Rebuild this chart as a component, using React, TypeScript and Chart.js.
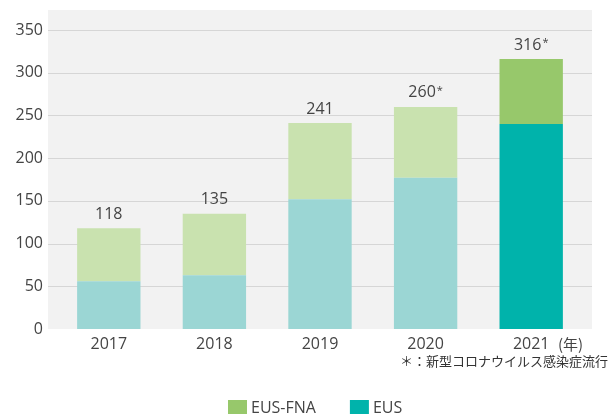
import React, { useEffect, useRef } from "react";
import { Chart, registerables } from "chart.js";

Chart.register(...registerables);

const years = ["2017", "2018", "2019", "2020", "2021"];
const eusValues = [56, 63, 152, 177, 240];
const fnaValues = [62, 72, 89, 83, 76];
const totalLabels = ["118", "135", "241", "260", "316"];
const totalMarks = ["", "", "", "*", "*"];
const eusColors = ["#9bd6d4", "#9bd6d4", "#9bd6d4", "#9bd6d4", "#00b3ab"];
const fnaColors = ["#c9e2af", "#c9e2af", "#c9e2af", "#c9e2af", "#97c86b"];
const legendItems = [
  { label: "EUS-FNA", color: "#97c86b" },
  { label: "EUS", color: "#00b3ab" },
];
const yearUnit = "(年)";
const footnote = "＊：新型コロナウイルス感染症流行";

const FONT = "'Open Sans', 'Noto Sans', sans-serif";
const TEXT = "#444444";

const decorPlugin = {
  id: "decor",
  beforeDraw(chart: any) {
    const { ctx, chartArea } = chart;
    const y = chart.scales.y;
    const left = chartArea.left - 8;
    const right = chartArea.right + 8;
    ctx.save();
    ctx.fillStyle = "#f2f2f2";
    ctx.fillRect(left, 10, right - left, chartArea.bottom - 10);
    ctx.strokeStyle = "#d6d6d6";
    ctx.lineWidth = 1;
    y.ticks.forEach((t: any) => {
      if (t.value === 0) return;
      const py = Math.round(y.getPixelForValue(t.value)) + 0.5;
      ctx.beginPath();
      ctx.moveTo(left, py);
      ctx.lineTo(right, py);
      ctx.stroke();
    });
    ctx.restore();
  },
  afterDraw(chart: any) {
    const { ctx } = chart;
    const x = chart.scales.x;
    const y = chart.scales.y;
    ctx.save();
    ctx.fillStyle = TEXT;
    ctx.textBaseline = "middle";
    years.forEach((_, i) => {
      const total = eusValues[i] + fnaValues[i];
      const px = x.getPixelForValue(i);
      const py = y.getPixelForValue(total) - 14;
      ctx.font = `16px ${FONT}`;
      const w1 = ctx.measureText(totalLabels[i]).width;
      ctx.font = `11px ${FONT}`;
      const w2 = totalMarks[i] ? ctx.measureText(totalMarks[i]).width + 1 : 0;
      const start = px - (w1 + w2) / 2;
      ctx.textAlign = "left";
      ctx.font = `16px ${FONT}`;
      ctx.fillText(totalLabels[i], start, py);
      if (totalMarks[i]) {
        ctx.font = `11px ${FONT}`;
        ctx.fillText(totalMarks[i], start + w1 + 1, py - 2);
      }
    });
    ctx.textAlign = "left";
    ctx.font = `15px 'Noto Sans CJK JP', ${FONT}`;
    ctx.fillText(yearUnit, 558, 344);
    ctx.textAlign = "right";
    ctx.font = `13px 'Noto Sans CJK JP', sans-serif`;
    ctx.fillStyle = "#333";
    ctx.fillText(footnote, 608, 361);
    ctx.font = `16px ${FONT}`;
    ctx.textAlign = "left";
    let lx = 228;
    legendItems.forEach((item) => {
      ctx.fillStyle = item.color;
      ctx.fillRect(lx, 400, 19, 19);
      ctx.fillStyle = TEXT;
      ctx.fillText(item.label, lx + 23, 408);
      lx += 23 + ctx.measureText(item.label).width + 34;
    });
    ctx.restore();
  },
};

export default function App() {
  const ref = useRef<HTMLCanvasElement>(null);
  useEffect(() => {
    if (!ref.current) return;
    const chart = new Chart(ref.current, {
      type: "bar",
      data: {
        labels: years,
        datasets: [
          {
            label: "EUS",
            data: eusValues,
            backgroundColor: eusColors,
            barPercentage: 0.6,
            categoryPercentage: 1,
          },
          {
            label: "EUS-FNA",
            data: fnaValues,
            backgroundColor: fnaColors,
            barPercentage: 0.6,
            categoryPercentage: 1,
          },
        ],
      },
      options: {
        animation: false,
        responsive: false,
        maintainAspectRatio: false,
        layout: { padding: { left: 0, right: 26, top: 30, bottom: 0 } },
        plugins: { legend: { display: false }, tooltip: { enabled: false } },
        scales: {
          x: {
            stacked: true,
            grid: { display: false, drawTicks: false },
            border: { display: false },
            ticks: {
              color: TEXT,
              font: { family: FONT, size: 16 },
              padding: 6,
            },
            afterFit(scale: any) {
              scale.height = 85;
            },
          },
          y: {
            stacked: true,
            min: 0,
            max: 350,
            grid: { display: false, drawTicks: false },
            border: { display: false },
            ticks: {
              stepSize: 50,
              color: TEXT,
              font: { family: FONT, size: 16 },
              padding: 13,
            },
            afterFit(scale: any) {
              scale.width = 56;
            },
          },
        },
      },
      plugins: [decorPlugin],
    });
    return () => chart.destroy();
  }, []);
  return (
    <div style={{ position: "absolute", left: 0, top: 0, width: 610, height: 414, background: "#fff" }}>
      <canvas ref={ref} width={610} height={414} style={{ width: 610, height: 414, display: "block" }} />
    </div>
  );
}
